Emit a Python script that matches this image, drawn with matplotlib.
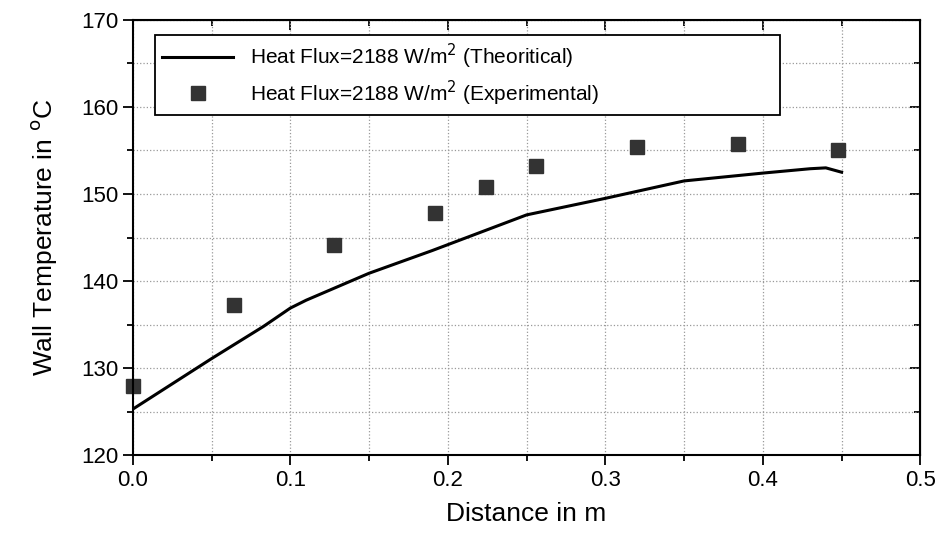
import numpy as np
import matplotlib.pyplot as plt

plt.rcParams['font.family'] = ['Liberation Sans', 'DejaVu Sans']

# theoretical curve
x_theo = [0.0, 0.025, 0.05, 0.083, 0.1, 0.11, 0.15, 0.19, 0.25, 0.3, 0.35, 0.4, 0.43, 0.44, 0.45]
t_theo = [125.3, 128.2, 131.1, 134.8, 136.9, 137.8, 140.9, 143.5, 147.6, 149.5, 151.5, 152.4, 152.9, 153.0, 152.5]

# experimental points
x_exp = [0.0, 0.064, 0.128, 0.192, 0.224, 0.256, 0.32, 0.384, 0.448]
t_exp = [128.0, 137.2, 144.2, 147.8, 150.8, 153.2, 155.4, 155.7, 155.0]

fig = plt.figure(figsize=(9.42, 5.35), dpi=100)
ax = fig.add_axes([0.141, 0.149, 0.836, 0.814])

ax.plot(x_theo, t_theo, color='black', lw=2.2,
        label='Heat Flux=2188 W/m$^2$ (Theoritical)')
ax.plot(x_exp, t_exp, 's', color='#333333', ms=10, ls='none', clip_on=False,
        label='Heat Flux=2188 W/m$^2$ (Experimental)')

ax.set_xlim(0, 0.5)
ax.set_ylim(120, 170)
ax.set_xticks(np.arange(0, 0.51, 0.1))
ax.set_yticks(np.arange(120, 171, 10))
ax.set_xticks(np.arange(0.05, 0.5, 0.1), minor=True)
ax.set_yticks(np.arange(125, 170, 10), minor=True)
ax.xaxis.set_major_formatter(plt.FormatStrFormatter('%.1f'))

ax.grid(True, which='both', ls=':', color='#999999', lw=0.9)
ax.tick_params(which='both', direction='out', labelsize=16, width=1.3)
ax.tick_params(which='major', length=7)
ax.tick_params(which='minor', length=4)
# inward ticks on top and right
ax2 = ax.secondary_xaxis('top')
ax2.set_xticks(np.arange(0, 0.51, 0.1))
ax2.set_xticks(np.arange(0.05, 0.5, 0.1), minor=True)
ax2.tick_params(which='both', direction='in', labeltop=False, width=1.3)
ax2.tick_params(which='major', length=7)
ax2.tick_params(which='minor', length=4)
ax3 = ax.secondary_yaxis('right')
ax3.set_yticks(np.arange(120, 171, 10))
ax3.set_yticks(np.arange(125, 170, 10), minor=True)
ax3.tick_params(which='both', direction='in', labelright=False, width=1.3)
ax3.tick_params(which='major', length=7)
ax3.tick_params(which='minor', length=4)
for s in ax.spines.values():
    s.set_linewidth(1.5)

ax.set_xlabel('Distance in m', fontsize=19, labelpad=8)
ax.set_ylabel('Wall Temperature in $^{\\rm o}$C', fontsize=19, labelpad=16)

leg = ax.legend(loc='upper left', bbox_to_anchor=(0.028, 0.816, 0.794, 0.15),
                mode='expand', fontsize=15, frameon=True, fancybox=False,
                edgecolor='black', framealpha=1, handlelength=3.4,
                borderpad=0.35, labelspacing=0.35, borderaxespad=0)
leg.get_frame().set_linewidth(1.3)

fig.savefig('out.png', dpi=100)
